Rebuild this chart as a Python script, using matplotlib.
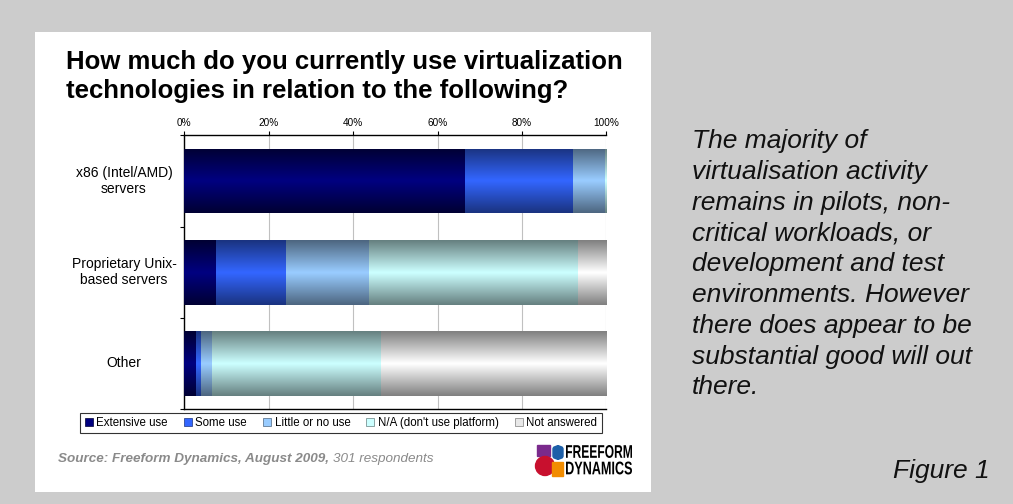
import numpy as np
import matplotlib
matplotlib.use("Agg")
import matplotlib.pyplot as plt
import matplotlib.patches as mpatches
from matplotlib.colors import LinearSegmentedColormap
from matplotlib.textpath import TextPath
from matplotlib.font_manager import FontProperties
from matplotlib.transforms import Affine2D

plt.rcParams['font.family'] = ['Liberation Sans', 'DejaVu Sans']

# data (percent of respondents)
categories = ['x86 (Intel/AMD)\nservers', 'Proprietary Unix-\nbased servers', 'Other']
series = ['Extensive use', 'Some use', 'Little or no use', 'N/A (don\'t use platform)', 'Not answered']
extensive = [66.4, 7.5, 2.7]
some_use = [25.7, 16.5, 1.2]
little = [7.5, 19.7, 2.6]
not_applicable = [0.4, 49.5, 40.0]
not_answered = [0.0, 6.8, 53.5]
ticks = [0, 20, 40, 60, 80, 100]
tick_labels = ['0%', '20%', '40%', '60%', '80%', '100%']

centre_cols = ['#000080', '#3366ff', '#99ccff', '#ccffff', '#ffffff']
edge_cols = ['#000033', '#1a3380', '#4d6680', '#668080', '#808080']

W, H = 1013, 504
fig = plt.figure(figsize=(W / 100, H / 100), dpi=100)
fig.patch.set_facecolor('#cccccc')

# white chart panel
fig.add_artist(mpatches.Rectangle((35 / W, 1 - 492 / H), 616 / W, 460 / H,
                                  transform=fig.transFigure, facecolor='white',
                                  edgecolor='none', zorder=0))

ax = fig.add_axes([184.3 / W, 1 - 409 / H, 422 / W, 273.7 / H])
ax.set_facecolor('white')

y = np.arange(len(categories))
left = np.zeros(len(categories))
grad = np.concatenate([np.linspace(0, 1, 50), np.linspace(1, 0, 50)])[:, None]
for vals, c0, c1 in zip([extensive, some_use, little, not_applicable, not_answered],
                        centre_cols, edge_cols):
    bars = ax.barh(y, vals, left=left, height=0.71, color=c0, edgecolor='none', zorder=2)
    cmap = LinearSegmentedColormap.from_list('g', [c1, c0])
    for b in bars:
        if b.get_width() <= 0:
            continue
        x0, y0 = b.get_x(), b.get_y()
        im = ax.imshow(grad, cmap=cmap, aspect='auto', interpolation='bicubic',
                       extent=(x0, x0 + b.get_width(), y0 + b.get_height(), y0), zorder=3)
        im.set_clip_path(b)
    left += np.array(vals)

ax.set_xlim(0, 100)
ax.set_ylim(2.5, -0.5)
ax.set_xticks(ticks)
ax.set_xticklabels(tick_labels, fontsize=7.2)
ax.xaxis.tick_top()
ax.tick_params(axis='x', length=3, width=0.8, pad=2, color='black')
ax.set_yticks([-0.5, 0.5, 1.5, 2.5])
ax.set_yticklabels([])
ax.tick_params(axis='y', length=3, width=0.8, direction='out')
for yi, lab in zip(y, categories):
    ax.text(-0.143, yi, lab, transform=ax.get_yaxis_transform(), ha='center',
            va='center', fontsize=10, multialignment='center')
ax.grid(axis='x', color='#c0c0c0', linewidth=0.8, zorder=1)
for s in ['left', 'top', 'bottom']:
    ax.spines[s].set_color('black')
    ax.spines[s].set_linewidth(1.0)
ax.spines['right'].set_visible(False)
ax.set_axisbelow(True)

# legend
handles = [mpatches.Patch(facecolor=c, edgecolor=e, linewidth=0.5, label=s)
           for c, e, s in zip(['#000080', '#3366ff', '#99ccff', '#ccffff', '#e8e8e8'],
                              edge_cols, series)]
leg = fig.legend(handles=handles, loc='center', ncol=5, fontsize=8.3,
                 bbox_to_anchor=((79 + 603) / 2 / W, 1 - 423 / H),
                 frameon=True, fancybox=False, edgecolor='black',
                 handlelength=0.7, handleheight=0.7, handletextpad=0.3,
                 columnspacing=1.4, borderpad=0.35)
leg.get_frame().set_linewidth(0.8)

# title
fig.text(66 / W, 1 - 69 / H, 'How much do you currently use virtualization',
         fontsize=18.5, fontweight='bold', ha='left', va='baseline')
fig.text(66 / W, 1 - 98 / H, 'technologies in relation to the following?',
         fontsize=18.5, fontweight='bold', ha='left', va='baseline')

# source line
fig.text(58 / W, 1 - 462 / H, 'Source: Freeform Dynamics, August 2009,',
         fontsize=9.7, fontweight='bold', style='italic', color='#8a8a8a',
         va='baseline')
fig.text(333 / W, 1 - 462 / H, '301 respondents', fontsize=9.7, style='italic',
         color='#8a8a8a', va='baseline')

# logo
fig.add_artist(mpatches.Rectangle((537 / W, 1 - 456 / H), 13 / W, 11 / H,
                                  transform=fig.transFigure, color='#7a2a8c'))
fig.add_artist(mpatches.FancyBboxPatch((553 / W, 1 - 459 / H), 10 / W, 13 / H,
                                       boxstyle='round,pad=0,rounding_size=0.006',
                                       transform=fig.transFigure, color='#1d5fa8'))
fig.add_artist(mpatches.Ellipse((545 / W, 1 - 466 / H), 19 / W, 19 / H,
                                transform=fig.transFigure, color='#c8102e'))
fig.add_artist(mpatches.Rectangle((552 / W, 1 - 476 / H), 11 / W, 14 / H,
                                  transform=fig.transFigure, color='#f28c00'))
fp = FontProperties(family='Liberation Sans', weight='bold')
for txt, ytop, ybot in [('FREEFORM', 445, 458), ('DYNAMICS', 461.5, 474.5)]:
    tp = TextPath((0, 0), txt, size=20, prop=fp)
    ext = tp.get_extents()
    sx = (632 - 566) / ext.width
    sy = (ybot - ytop) / ext.height
    tr = (Affine2D().translate(-ext.x0, -ext.y0).scale(sx / 100, sy / 100)
          .translate(566 / 100, (H - ybot) / 100) + fig.dpi_scale_trans)
    fig.add_artist(mpatches.PathPatch(tp, transform=tr, color='black', lw=0))

# commentary
lines = ['The majority of', 'virtualisation activity', 'remains in pilots, non-',
         'critical workloads, or', 'development and test',
         'environments. However', 'there does appear to be',
         'substantial good will out', 'there.']
for i, ln in enumerate(lines):
    fig.text(692 / W, 1 - (148 + i * 30.8) / H, ln, fontsize=19, style='italic',
             color='#111111', va='baseline')
fig.text(990 / W, 1 - 478 / H, 'Figure 1', fontsize=19, style='italic',
         color='#111111', ha='right', va='baseline')

fig.savefig('out.png', dpi=100, facecolor=fig.get_facecolor())
